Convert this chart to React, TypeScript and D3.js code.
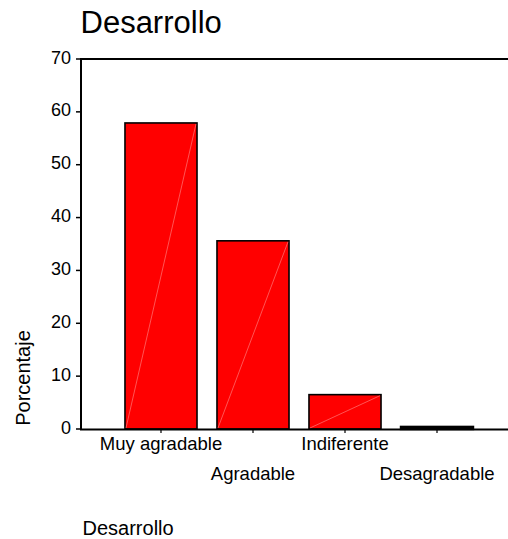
import React from "react";
import * as d3 from "d3";

const categories = ["Muy agradable", "Agradable", "Indiferente", "Desagradable"];
const values = [57.9, 35.6, 6.5, 0.4];
const yTicks = [0, 10, 20, 30, 40, 50, 60, 70];
const title = "Desarrollo";
const yLabel = "Porcentaje";
const xLabel = "Desarrollo";

const W = 508;
const H = 539;
const FONT = "'Liberation Sans', Arial, Helvetica, sans-serif";

export default function App() {
  const left = 81;
  const top = 59;
  const bottom = 429;
  const x = d3
    .scaleBand<string>()
    .domain(categories)
    .range([left, 517])
    .paddingInner(0.217)
    .paddingOuter(0.478);
  const y = d3.scaleLinear().domain([0, 70]).range([bottom, top]);
  const bw = x.bandwidth();

  return (
    <div style={{ position: "absolute", left: 0, top: 0 }}>
      <svg width={W} height={H} style={{ display: "block", background: "#fff" }} fontFamily={FONT}>
        <text x={80.5} y={33} fontSize={31} fill="#000">{title}</text>

        {/* bars */}
        {categories.map((c, i) => {
          const x0 = x(c)!;
          const y0 = y(values[i]);
          const h = bottom - y0;
          return (
            <g key={c}>
              <rect x={x0} y={y0} width={bw} height={h} fill="#ff0000" stroke="#000" strokeWidth={h < 4 ? 2.4 : 1.6} />
              {h > 4 && (
                <line x1={x0 + 1} y1={bottom - 1} x2={x0 + bw - 1} y2={y0 + 1} stroke="#ffa8a8" strokeWidth={0.5} />
              )}
            </g>
          );
        })}

        {/* axes frame */}
        <line x1={left} y1={top} x2={W} y2={top} stroke="#000" strokeWidth={2} />
        <line x1={left} y1={top - 1} x2={left} y2={bottom + 1} stroke="#000" strokeWidth={2} />
        <line x1={left - 1} y1={bottom + 0.5} x2={W} y2={bottom + 0.5} stroke="#000" strokeWidth={2} />

        {/* y ticks */}
        {yTicks.map((t) => (
          <g key={t}>
            <line x1={left - 5} y1={y(t)} x2={left} y2={y(t)} stroke="#000" strokeWidth={1.5} />
            <text x={71} y={y(t) + 4.5} fontSize={18} textAnchor="end" fill="#000">{t}</text>
          </g>
        ))}

        {/* x ticks and labels */}
        {categories.map((c, i) => {
          const cx = x(c)! + bw / 2;
          return (
            <g key={c}>
              <line x1={cx} y1={bottom} x2={cx} y2={bottom + 4} stroke="#000" strokeWidth={1.2} />
              <text x={cx} y={i % 2 === 0 ? 450 : 480} fontSize={18.5} textAnchor="middle" fill="#000">{c}</text>
            </g>
          );
        })}

        <text transform={`translate(30,378) rotate(-90)`} fontSize={20} textAnchor="middle" fill="#000">{yLabel}</text>
        <text x={82.5} y={535} fontSize={20} fill="#000">{xLabel}</text>
      </svg>
    </div>
  );
}
